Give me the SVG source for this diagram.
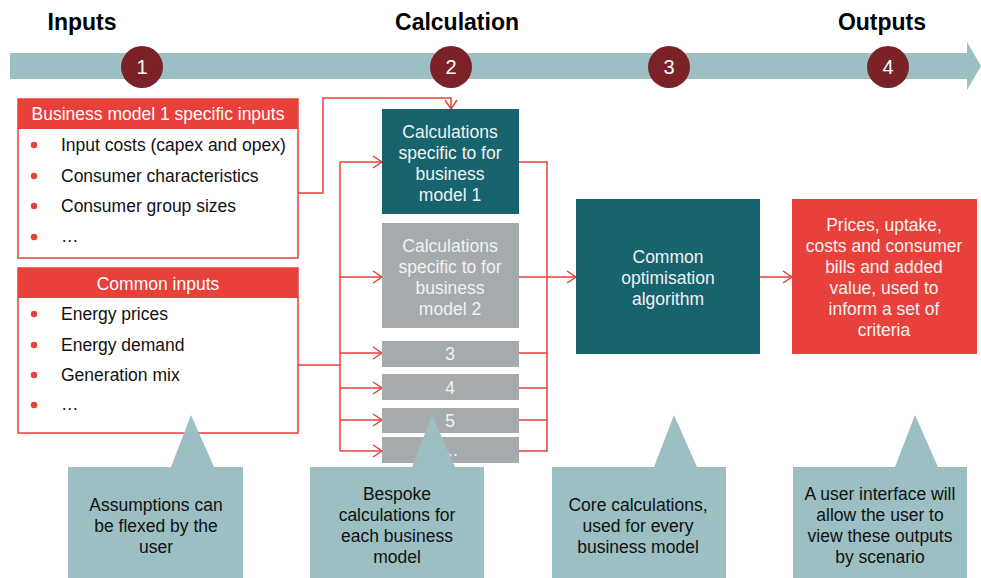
<svg xmlns="http://www.w3.org/2000/svg" width="981" height="578" viewBox="0 0 981 578">
  <defs>
    <style>
      text { font-family: "Liberation Sans", Arial, sans-serif; }
      .title { font-size: 23px; font-weight: bold; fill: #000; text-anchor: middle; }
      .num { font-size: 20px; fill: #fff; text-anchor: middle; }
      .hdr { font-size: 17.5px; fill: #fff; text-anchor: middle; }
      .item { font-size: 17.5px; fill: #111; }
      .bullet { fill: #E8403A; }
      .inbox { fill: #fff; stroke: #E8403A; stroke-width: 1.5; }
      .inhdr { fill: #E8403A; }
      .wt { font-size: 17.5px; fill: #F2F2F2; text-anchor: middle; }
      .dk { font-size: 17.5px; fill: #111; text-anchor: middle; }
      .teal { fill: #17636E; }
      .grey { fill: #A5AAAD; }
      .red { fill: #E8403A; }
      .callout { fill: #9BBFC3; }
      .wire { fill: none; stroke: #E8403A; stroke-width: 1.5; }
    </style>
    <marker id="arr" markerUnits="userSpaceOnUse" markerWidth="14" markerHeight="14" refX="11" refY="7" orient="auto">
      <path d="M2,1 L11,7 L2,13" fill="none" stroke="#E8403A" stroke-width="1.5"/>
    </marker>
  </defs>

  <!-- timeline band -->
  <g id="timeline">
    <polygon points="10,53 967,53 967,42 981,66 967,90 967,79 10,79" fill="#9BBFC3"/>
    <text class="title" x="82" y="30">Inputs</text>
    <text class="title" x="457" y="30">Calculation</text>
    <text class="title" x="882" y="30">Outputs</text>
    <g id="step1"><circle cx="142" cy="67" r="21" fill="#7B2228"/><text class="num" x="142" y="74">1</text></g>
    <g id="step2"><circle cx="451" cy="67" r="21" fill="#7B2228"/><text class="num" x="451" y="74">2</text></g>
    <g id="step3"><circle cx="669" cy="67" r="21" fill="#7B2228"/><text class="num" x="669" y="74">3</text></g>
    <g id="step4"><circle cx="888" cy="67" r="21" fill="#7B2228"/><text class="num" x="888" y="74">4</text></g>
  </g>

  <!-- connectors -->
  <g id="connectors">
    <path class="wire" d="M298,193 H323 V98 H451 V109" marker-end="url(#arr)"/>
    <path class="wire" d="M298,365 H340"/>
    <path class="wire" d="M340,162 V451"/>
    <path class="wire" d="M340,162 H382" marker-end="url(#arr)"/>
    <path class="wire" d="M340,277 H382" marker-end="url(#arr)"/>
    <path class="wire" d="M340,353 H382" marker-end="url(#arr)"/>
    <path class="wire" d="M340,388 H382" marker-end="url(#arr)"/>
    <path class="wire" d="M340,420 H382" marker-end="url(#arr)"/>
    <path class="wire" d="M340,451 H382" marker-end="url(#arr)"/>
    <path class="wire" d="M519,162 H547 V451 H519"/>
    <path class="wire" d="M519,277 H547"/>
    <path class="wire" d="M519,353 H547"/>
    <path class="wire" d="M519,388 H547"/>
    <path class="wire" d="M519,420 H547"/>
    <path class="wire" d="M547,277 H576" marker-end="url(#arr)"/>
    <path class="wire" d="M760,277 H792" marker-end="url(#arr)"/>
  </g>

  <!-- input boxes -->
  <g id="bm1-inputs">
    <rect class="inbox" x="18" y="99" width="280" height="159"/>
    <rect class="inhdr" x="18" y="99" width="280" height="30"/>
    <text class="hdr" x="158" y="120">Business model 1 specific inputs</text>
    <circle class="bullet" cx="34" cy="145" r="3.2"/><text class="item" x="61" y="151">Input costs (capex and opex)</text>
    <circle class="bullet" cx="34" cy="176" r="3.2"/><text class="item" x="61" y="182">Consumer characteristics</text>
    <circle class="bullet" cx="34" cy="206" r="3.2"/><text class="item" x="61" y="212">Consumer group sizes</text>
    <circle class="bullet" cx="34" cy="237" r="3.2"/><text class="item" x="61" y="242">…</text>
  </g>
  <g id="common-inputs">
    <rect class="inbox" x="18" y="268" width="280" height="165"/>
    <rect class="inhdr" x="18" y="268" width="280" height="30"/>
    <text class="hdr" x="158" y="290">Common inputs</text>
    <circle class="bullet" cx="34" cy="314" r="3.2"/><text class="item" x="61" y="320">Energy prices</text>
    <circle class="bullet" cx="34" cy="345" r="3.2"/><text class="item" x="61" y="351">Energy demand</text>
    <circle class="bullet" cx="34" cy="375" r="3.2"/><text class="item" x="61" y="381">Generation mix</text>
    <circle class="bullet" cx="34" cy="405" r="3.2"/><text class="item" x="61" y="410">…</text>
  </g>

  <!-- calculation boxes -->
  <g id="calc-bm1">
    <rect class="teal" x="382" y="109" width="137" height="105"/>
    <text class="wt" x="450" y="138">Calculations</text>
    <text class="wt" x="450" y="159">specific to for</text>
    <text class="wt" x="450" y="180">business</text>
    <text class="wt" x="450" y="201">model 1</text>
  </g>
  <g id="calc-bm2">
    <rect class="grey" x="382" y="223" width="137" height="105"/>
    <text class="wt" x="450" y="252">Calculations</text>
    <text class="wt" x="450" y="273">specific to for</text>
    <text class="wt" x="450" y="294">business</text>
    <text class="wt" x="450" y="315">model 2</text>
  </g>
  <g id="calc-3"><rect class="grey" x="382" y="341" width="137" height="26"/><text class="wt" x="450" y="360">3</text></g>
  <g id="calc-4"><rect class="grey" x="382" y="374" width="137" height="26"/><text class="wt" x="450" y="394">4</text></g>
  <g id="calc-5"><rect class="grey" x="382" y="408" width="137" height="25"/><text class="wt" x="450" y="427">5</text></g>
  <g id="calc-more"><rect class="grey" x="382" y="437" width="137" height="26"/><text class="wt" x="450" y="456">…</text></g>

  <g id="optimiser">
    <rect class="teal" x="576" y="199" width="184" height="155"/>
    <text class="wt" x="668" y="263">Common</text>
    <text class="wt" x="668" y="284">optimisation</text>
    <text class="wt" x="668" y="305">algorithm</text>
  </g>
  <g id="outputs">
    <rect class="red" x="792" y="199" width="185" height="155"/>
    <text class="wt" x="884" y="231">Prices, uptake,</text>
    <text class="wt" x="884" y="252">costs and consumer</text>
    <text class="wt" x="884" y="273">bills and added</text>
    <text class="wt" x="884" y="294">value, used to</text>
    <text class="wt" x="884" y="315">inform a set of</text>
    <text class="wt" x="884" y="336">criteria</text>
  </g>

  <!-- callouts -->
  <g id="note-inputs">
    <path class="callout" d="M68,467 H171 L191,415 L214,467 H243 V578 H68 Z"/>
    <text class="dk" x="156" y="511">Assumptions can</text>
    <text class="dk" x="156" y="532">be flexed by the</text>
    <text class="dk" x="156" y="553">user</text>
  </g>
  <g id="note-calc">
    <path class="callout" d="M310,467 H412 L432,415 L455,467 H484 V578 H310 Z"/>
    <text class="dk" x="397" y="500">Bespoke</text>
    <text class="dk" x="397" y="521">calculations for</text>
    <text class="dk" x="397" y="542">each business</text>
    <text class="dk" x="397" y="563">model</text>
  </g>
  <g id="note-core">
    <path class="callout" d="M552,467 H654 L674,415 L697,467 H726 V578 H552 Z"/>
    <text class="dk" x="638" y="511">Core calculations,</text>
    <text class="dk" x="638" y="532">used for every</text>
    <text class="dk" x="638" y="553">business model</text>
  </g>
  <g id="note-ui">
    <path class="callout" d="M793,467 H895 L915,415 L938,467 H967 V578 H793 Z"/>
    <text class="dk" x="880" y="500">A user interface will</text>
    <text class="dk" x="880" y="521">allow the user to</text>
    <text class="dk" x="880" y="542">view these outputs</text>
    <text class="dk" x="880" y="563">by scenario</text>
  </g>
</svg>
